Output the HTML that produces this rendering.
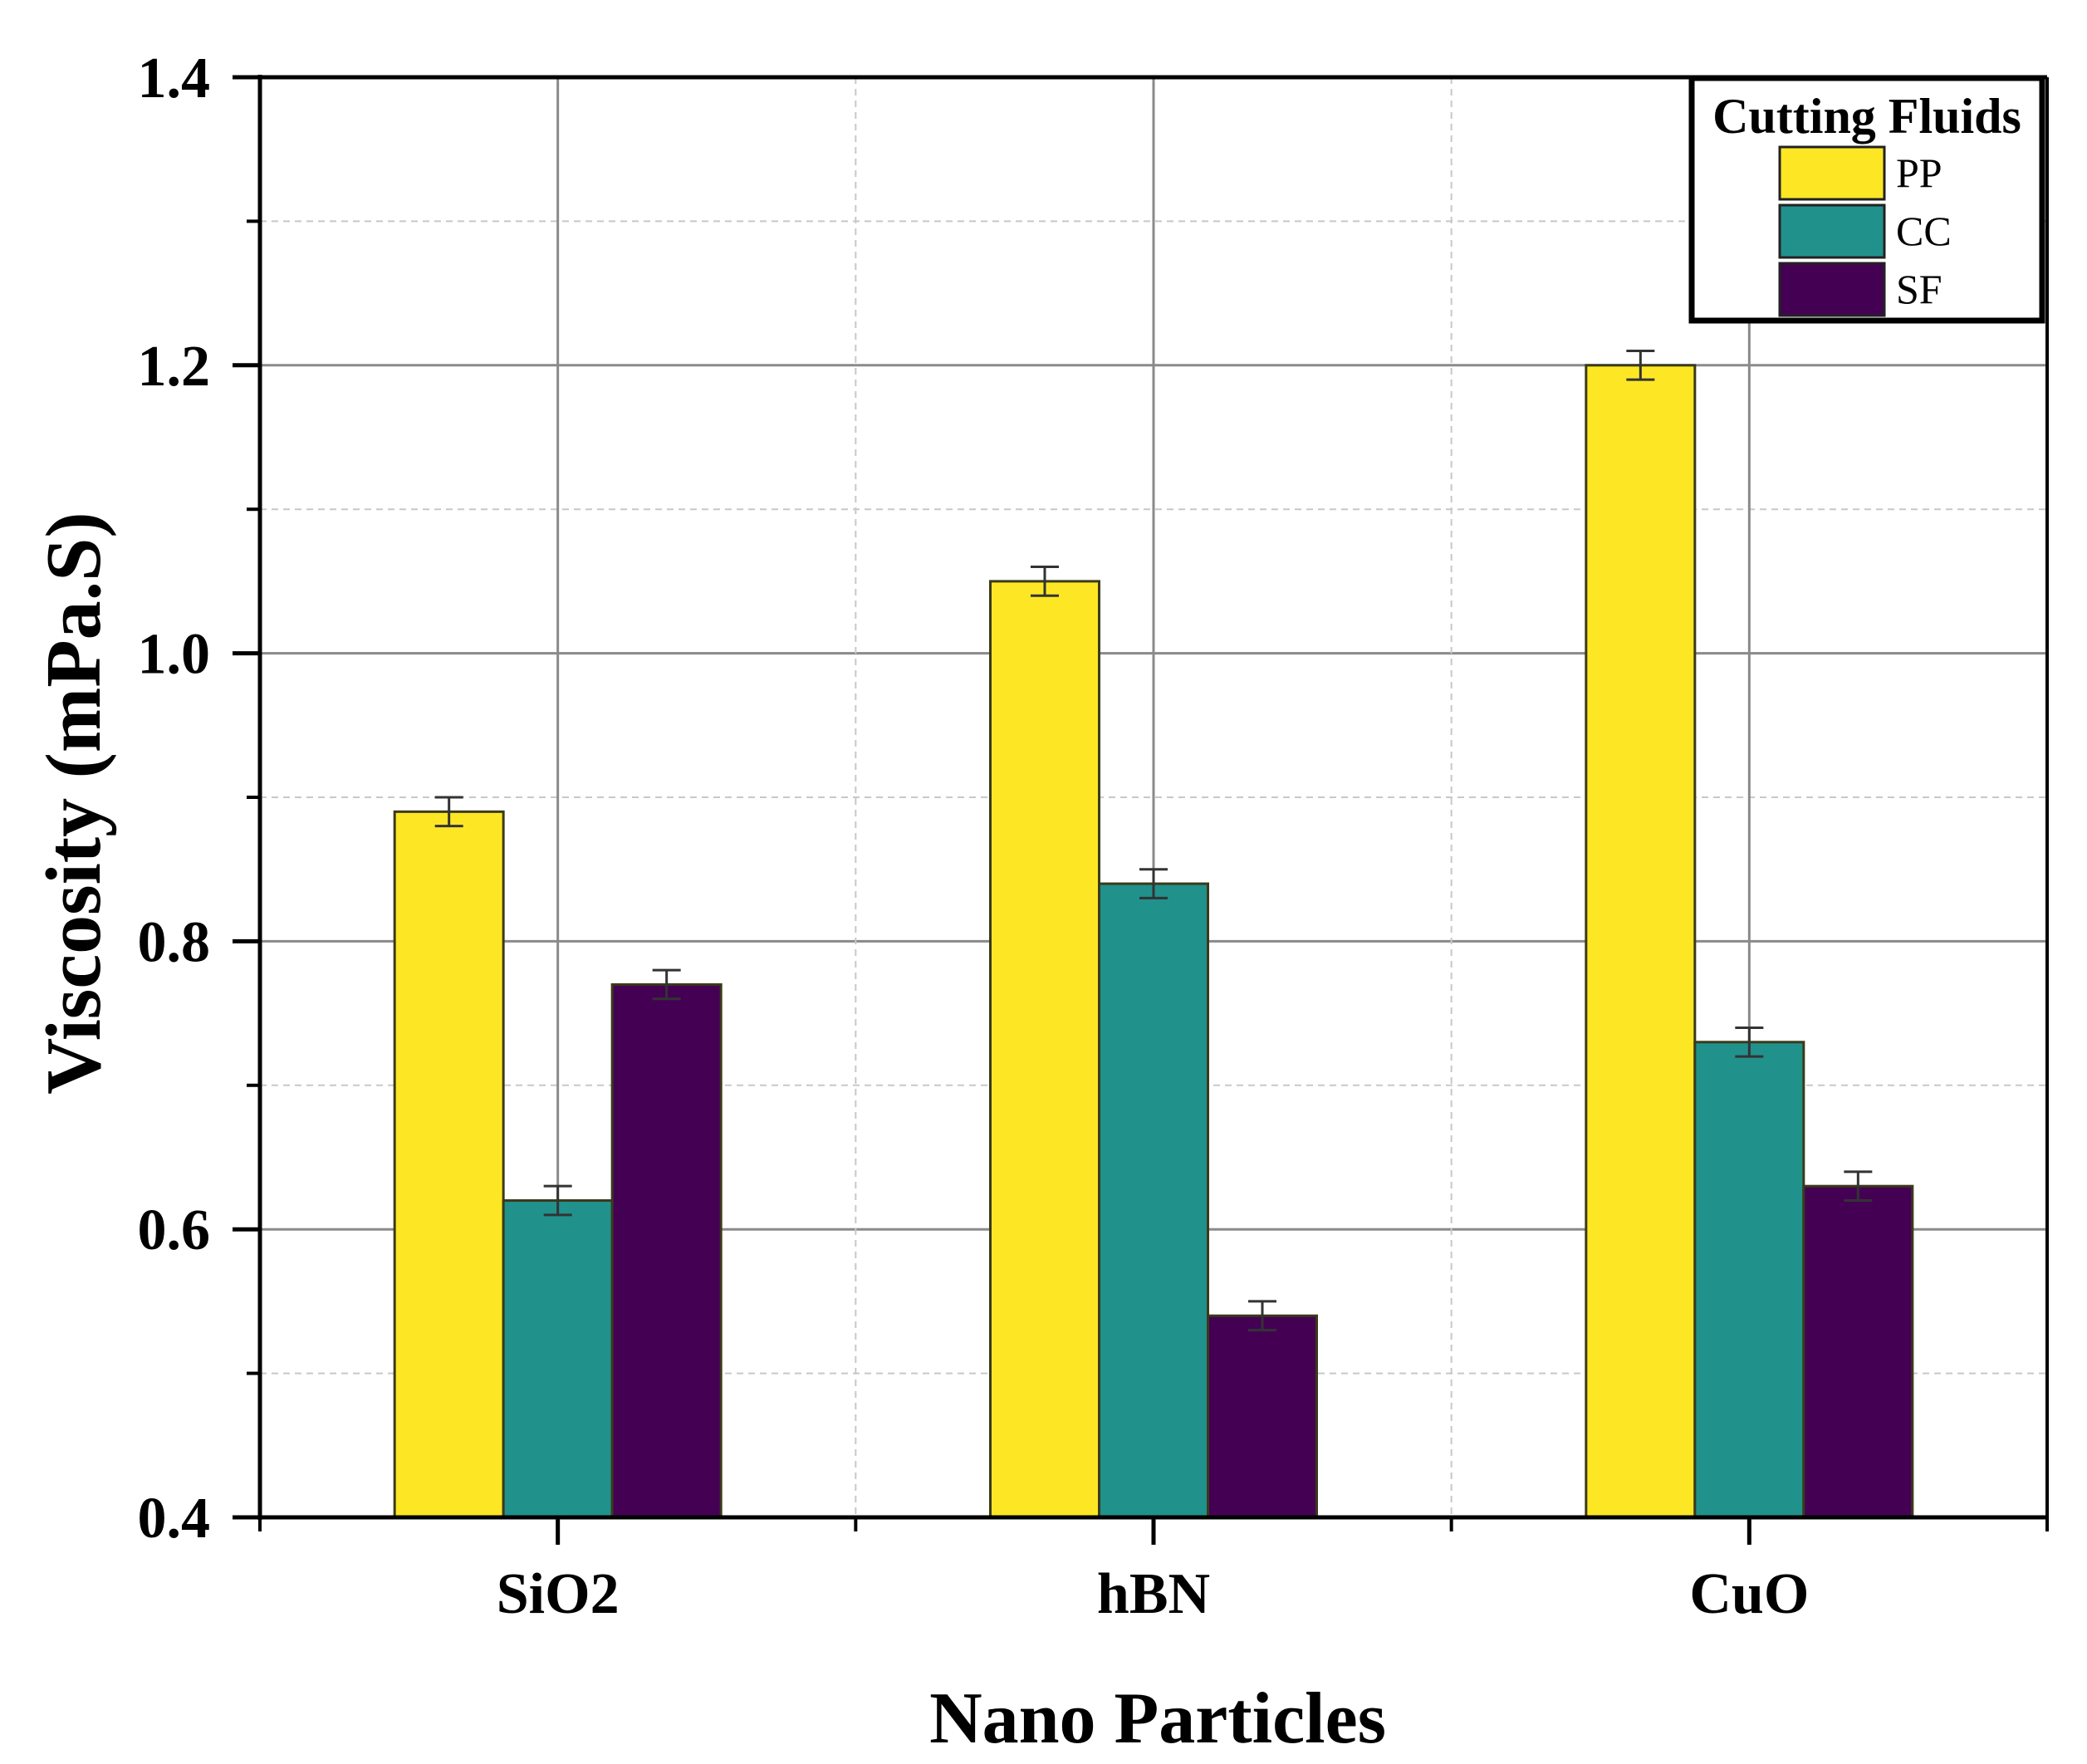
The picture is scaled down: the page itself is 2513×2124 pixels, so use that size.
<!DOCTYPE html>
<html><head><meta charset="utf-8"><style>
html,body{margin:0;padding:0;background:#fff;}
svg{display:block;font-family:"Liberation Serif",serif;}
</style></head><body>
<svg id="chart" width="2513" height="2124" viewBox="0 0 2513 2124">
<g id="grid"></g>
<g id="bars"></g>
<g id="axes"></g>
<text x="0" y="0" transform="translate(120,967) rotate(-90)" text-anchor="middle" font-size="94" font-weight="bold">Viscosity (mPa.S)</text>
<text x="1394" y="2098" text-anchor="middle" font-size="88" font-weight="bold">Nano Particles</text>
<g>
<rect x="2037" y="94" width="422" height="292" fill="#fff" stroke="#000" stroke-width="7"/>
<text x="2248" y="160" text-anchor="middle" font-size="60" font-weight="bold">Cutting Fluids</text>
<g id="legend-items"></g>
</g>
</svg>
<script>
const categories = ["SiO2", "hBN", "CuO"];
const seriesNames = ["PP", "CC", "SF"];
const seriesColors = ["#fde725", "#21918c", "#440154"];
const ppValues = [0.89, 1.05, 1.20];
const ccValues = [0.62, 0.84, 0.73];
const sfValues = [0.77, 0.54, 0.63];
const errValues = [0.01, 0.01, 0.01];
const yTicks = [0.4, 0.6, 0.8, 1.0, 1.2, 1.4];
const yTickLabels = ["0.4", "0.6", "0.8", "1.0", "1.2", "1.4"];
const yMinor = [0.5, 0.7, 0.9, 1.1, 1.3];

const NS = "http://www.w3.org/2000/svg";
const L = 313, R = 2465, T = 93, B = 1827, yMin = 0.4, yMax = 1.4;
const catW = (R - L) / categories.length;
const barW = 131;
function yScale(v){ return B - (v - yMin) / (yMax - yMin) * (B - T); }
function xCenter(i){ return L + catW * (i + 0.5); }
function mk(tag, attrs, parent){ const e = document.createElementNS(NS, tag); for (const k in attrs) e.setAttribute(k, attrs[k]); parent.appendChild(e); return e; }

const grid = document.getElementById('grid');
const bars = document.getElementById('bars');
const axes = document.getElementById('axes');

yMinor.forEach(v => {
  const l = mk('line', {x1:L, x2:R, y1:yScale(v), y2:yScale(v), stroke:'#c8c8c8', 'stroke-width':2, 'stroke-dasharray':'8 6'}, grid);
  
  
});
yTicks.forEach(v => {
  if (v === yMin || v === yMax) return;
  const l = mk('line', {x1:L, x2:R, y1:yScale(v), y2:yScale(v), stroke:'#8a8a8a', 'stroke-width':3}, grid);
  
  
});
for (let i = 1; i < categories.length; i++) {
  const x = L + catW * i;
  const l = mk('line', {x1:x, x2:x, y1:T, y2:B, stroke:'#c8c8c8', 'stroke-width':2, 'stroke-dasharray':'8 6'}, grid);
  
  
}
categories.forEach((c, i) => {
  const x = xCenter(i);
  const l = mk('line', {x1:x, x2:x, y1:T, y2:B, stroke:'#8a8a8a', 'stroke-width':3}, grid);
  
  
});

const allSeries = [ppValues, ccValues, sfValues];
categories.forEach((c, i) => {
  allSeries.forEach((vals, s) => {
    const x0 = xCenter(i) - 1.5 * barW + s * barW;
    const y = yScale(vals[i]);
    const r = mk('rect', {x:x0, y:y, width:barW, height:B - y, fill:seriesColors[s], stroke:'#3a3a1a', 'stroke-width':3}, bars);
    
    
    const cx = x0 + barW / 2, e = errValues[i];
    const eg = mk('g', {stroke:'#333', 'stroke-width':3}, bars);
    
    
    mk('line', {x1:cx, x2:cx, y1:yScale(vals[i] + e), y2:yScale(vals[i] - e)}, eg);
    mk('line', {x1:cx - 17, x2:cx + 17, y1:yScale(vals[i] + e), y2:yScale(vals[i] + e)}, eg);
    mk('line', {x1:cx - 17, x2:cx + 17, y1:yScale(vals[i] - e), y2:yScale(vals[i] - e)}, eg);
  });
});

mk('line', {x1:L, x2:L, y1:T - 3, y2:B + 3, stroke:'#000', 'stroke-width':5}, axes);
mk('line', {x1:L - 33, x2:R, y1:B, y2:B, stroke:'#000', 'stroke-width':5}, axes);
mk('line', {x1:L - 33, x2:R, y1:T, y2:T, stroke:'#000', 'stroke-width':5}, axes);
mk('line', {x1:R, x2:R, y1:T, y2:B, stroke:'#000', 'stroke-width':4}, axes);

yTicks.forEach((v, i) => {
  const y = yScale(v);
  mk('line', {x1:L - 33, x2:L, y1:y, y2:y, stroke:'#000', 'stroke-width':5}, axes);
  const t = mk('text', {x:253, y:y + 24, 'text-anchor':'end', 'font-size':70, 'font-weight':'bold'}, axes);
  t.textContent = yTickLabels[i];
  
  
});
yMinor.forEach(v => {
  const y = yScale(v);
  mk('line', {x1:L - 16, x2:L, y1:y, y2:y, stroke:'#000', 'stroke-width':4}, axes);
});
mk('line', {x1:L, x2:L, y1:B, y2:B + 17, stroke:'#000', 'stroke-width':4}, axes);
for (let i = 1; i <= categories.length; i++) {
  const x = L + catW * i;
  mk('line', {x1:x, x2:x, y1:B, y2:B + 17, stroke:'#000', 'stroke-width':4}, axes);
}
categories.forEach((c, i) => {
  const x = xCenter(i);
  mk('line', {x1:x, x2:x, y1:B, y2:B + 33, stroke:'#000', 'stroke-width':5}, axes);
  const t = mk('text', {x:x, y:1942, 'text-anchor':'middle', 'font-size':70, 'font-weight':'bold'}, axes);
  t.textContent = c;
  
  
});

const li = document.getElementById('legend-items');
seriesNames.forEach((n, s) => {
  const y = 177 + s * 70;
  const r = mk('rect', {x:2143, y:y, width:126, height:63, fill:seriesColors[s], stroke:'#222', 'stroke-width':3}, li);
  
  
  const t = mk('text', {x:2283, y:y + 48, 'font-size':50}, li);
  t.textContent = n;
  
  
});
</script>
</body></html>
